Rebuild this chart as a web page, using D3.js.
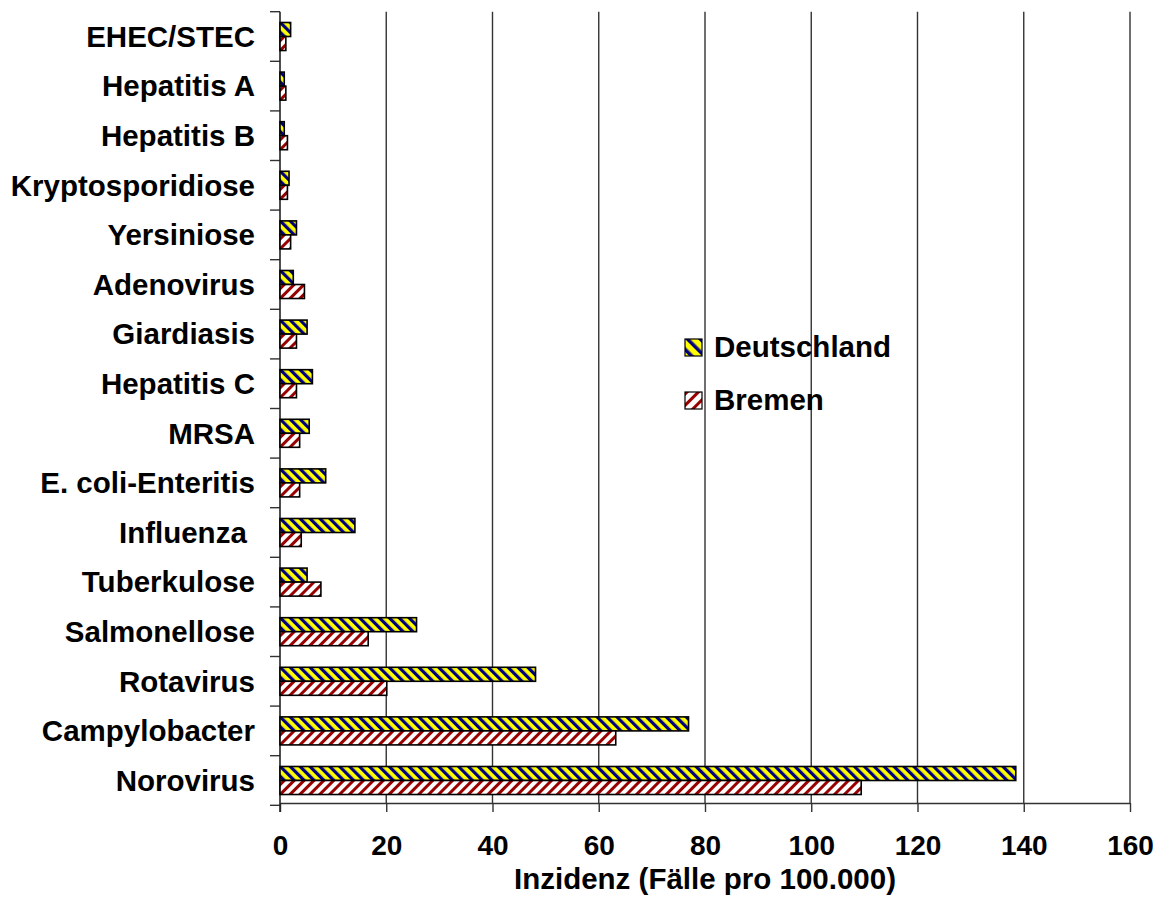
<!DOCTYPE html>
<html>
<head>
<meta charset="utf-8">
<script src="https://cdn.jsdelivr.net/npm/d3@7"></script>
<style>
  html, body { margin: 0; padding: 0; background: #fff; }
  svg { display: block; }
  text { font-family: "Liberation Sans", Arial, sans-serif; font-weight: bold; fill: #000; }
</style>
</head>
<body>
<svg id="chart" width="1165" height="908"></svg>
<script>
// Meldepflichtige Infektionen: Inzidenz Deutschland vs. Bremen
const categories = ["EHEC/STEC", "Hepatitis A", "Hepatitis B", "Kryptosporidiose", "Yersiniose",
  "Adenovirus", "Giardiasis", "Hepatitis C", "MRSA", "E. coli-Enteritis", "Influenza ",
  "Tuberkulose", "Salmonellose", "Rotavirus", "Campylobacter", "Norovirus"];
const deutschland = [2.0, 0.8, 0.8, 1.7, 3.1, 2.5, 5.1, 6.1, 5.5, 8.6, 14.1, 5.1, 25.7, 48.1, 76.9, 138.5];
const bremen      = [1.1, 1.1, 1.4, 1.4, 2.0, 4.6, 3.1, 3.1, 3.7, 3.7, 4.0, 7.7, 16.6, 20.1, 63.2, 109.4];
const seriesNames = ["Deutschland", "Bremen"];
const xTicks = [0, 20, 40, 60, 80, 100, 120, 140, 160];
const xTitle = "Inzidenz (Fälle pro 100.000)";

const svg = d3.select("#chart");
const plot = { left: 280, right: 1130, top: 11.7, bottom: 803 };

const x = d3.scaleLinear().domain([0, 160]).range([plot.left, plot.right]);
const y = d3.scaleBand().domain(categories).range([plot.top, 805.3]).padding(0);
const ySub = d3.scaleBand().domain(seriesNames).range([0, y.bandwidth()])
  .paddingInner(0).paddingOuter(0.77);

// hatch patterns
const defs = svg.append("defs");
function hatch(id, size, stripe, angle, bg, fg) {
  const p = defs.append("pattern").attr("id", id)
    .attr("patternUnits", "userSpaceOnUse").attr("width", size).attr("height", size)
    .attr("patternTransform", `rotate(${angle})`);
  p.append("rect").attr("width", size).attr("height", size).attr("fill", bg);
  p.append("rect").attr("width", stripe).attr("height", size).attr("fill", fg);
}
hatch("hatch-de", 7, 3.2, -45, "#FFFF00", "#000080");
hatch("hatch-hb", 7, 3, 45, "#FFFFFF", "#990000");
hatch("swatch-de", 9, 3.5, -45, "#FFFF00", "#000080");
hatch("swatch-hb", 8, 3, 45, "#FFFFFF", "#990000");

const fills = { "Deutschland": "url(#hatch-de)", "Bremen": "url(#hatch-hb)" };
const swatchFills = { "Deutschland": "url(#swatch-de)", "Bremen": "url(#swatch-hb)" };

// vertical gridlines
svg.append("g").selectAll("line").data(xTicks.filter(d => d > 0)).join("line")
  .attr("x1", d => x(d)).attr("x2", d => x(d))
  .attr("y1", plot.top).attr("y2", plot.bottom)
  .attr("stroke", "#333").attr("stroke-width", 1.4);

// x axis
const xAxis = svg.append("g").attr("transform", `translate(0,${plot.bottom})`)
  .call(d3.axisBottom(x).tickValues(xTicks).tickSize(9).tickSizeOuter(0));
xAxis.select(".domain").attr("stroke", "#333").attr("stroke-width", 1.4);
xAxis.selectAll(".tick line").attr("stroke", "#333").attr("stroke-width", 1.4);
xAxis.selectAll(".tick text")
  .attr("y", 52).attr("dy", 0)
  .style("font-size", "28px").style("font-weight", "bold")
  .style("font-family", "'Liberation Sans', Arial, sans-serif").attr("fill", "#000");

// y axis
const yAxis = svg.append("g").attr("transform", `translate(${plot.left},0)`)
  .call(d3.axisLeft(y).tickSize(0).tickPadding(25));
yAxis.select(".domain").remove();
yAxis.selectAll(".tick text")
  .style("font-size", "29.5px").style("font-weight", "bold").style("white-space", "pre")
  .style("font-family", "'Liberation Sans', Arial, sans-serif").attr("fill", "#000")
  .attr("dy", "0.35em");
// category boundary ticks
const bounds = categories.map(c => y(c)).concat([y(categories[categories.length - 1]) + y.bandwidth()]);
svg.append("g").selectAll("line").data(bounds).join("line")
  .attr("x1", plot.left - 10).attr("x2", plot.left)
  .attr("y1", d => d).attr("y2", d => d)
  .attr("stroke", "#333").attr("stroke-width", 1.4);
svg.append("line")
  .attr("x1", plot.left).attr("x2", plot.left)
  .attr("y1", plot.top).attr("y2", plot.bottom + 9)
  .attr("stroke", "#222").attr("stroke-width", 1.6);

// bars
const rows = categories.map((c, i) => ({ cat: c, values: [
  { series: "Deutschland", value: deutschland[i] },
  { series: "Bremen", value: bremen[i] }] }));

svg.append("g").selectAll("g").data(rows).join("g")
  .attr("transform", d => `translate(0,${y(d.cat)})`)
  .selectAll("rect").data(d => d.values).join("rect")
  .attr("x", x(0))
  .attr("y", d => ySub(d.series))
  .attr("width", d => x(d.value) - x(0))
  .attr("height", ySub.bandwidth())
  .attr("fill", d => fills[d.series])
  .attr("stroke", "#000").attr("stroke-width", 1.6);

// x axis title
svg.append("text").attr("x", 705).attr("y", 889).attr("text-anchor", "middle")
  .style("font-size", "29.5px").text(xTitle);

// legend
const legend = svg.append("g").attr("transform", "translate(685,339)");
const li = legend.selectAll("g").data(seriesNames).join("g")
  .attr("transform", (d, i) => `translate(0,${i * 53})`);
li.append("rect").attr("width", 17).attr("height", 17)
  .attr("fill", d => swatchFills[d]).attr("stroke", "#000").attr("stroke-width", 1.2);
li.append("text").attr("x", 29).attr("y", 18)
  .style("font-size", "29.5px").text(d => d);
</script>
</body>
</html>
